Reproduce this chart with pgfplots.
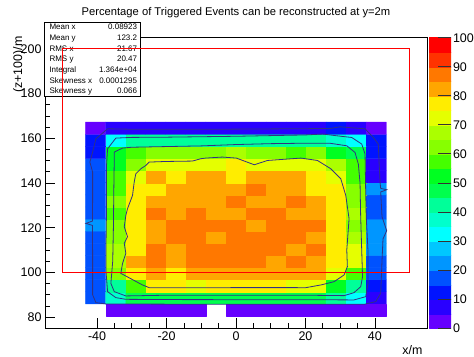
\documentclass[border=0pt]{standalone}
\usepackage{fontspec}
\setmainfont{Liberation Sans}
\usepackage{pgfplots}
\pgfplotsset{compat=1.18}

% 20-step rainbow palette (violet -> red); with meta range [2.5,97.5] each
% band centre 5k+2.5 lands exactly on entry k
\pgfplotsset{colormap={rootpal}{
  rgb=(0.40,0.00,1.00) rgb=(0.16,0.00,1.00) rgb=(0.00,0.08,1.00) rgb=(0.00,0.32,1.00)
  rgb=(0.00,0.59,1.00) rgb=(0.00,0.78,1.00) rgb=(0.00,1.00,1.00) rgb=(0.00,1.00,0.80)
  rgb=(0.00,1.00,0.60) rgb=(0.00,1.00,0.30) rgb=(0.00,1.00,0.13) rgb=(0.27,1.00,0.00)
  rgb=(0.53,1.00,0.00) rgb=(0.67,1.00,0.00) rgb=(0.90,1.00,0.00) rgb=(1.00,0.93,0.00)
  rgb=(1.00,0.65,0.00) rgb=(1.00,0.47,0.00) rgb=(1.00,0.20,0.00) rgb=(1.00,0.00,0.00)}}

\definecolor{contourline}{RGB}{50,50,130}

% bin contents, rows 2..16 from the bottom (x varies fastest)
\pgfplotstableread{
x y v
-40.40 88.62 17.5
-34.63 88.62 37.5
-28.86 88.62 47.5
-23.09 88.62 47.5
-17.32 88.62 47.5
-11.55 88.62 47.5
-5.78 88.62 47.5
0.00 88.62 47.5
5.77 88.62 47.5
11.54 88.62 47.5
17.31 88.62 47.5
23.08 88.62 47.5
28.85 88.62 42.5
34.62 88.62 32.5
40.39 88.62 7.5
-40.40 94.04 17.5
-34.63 94.04 42.5
-28.86 94.04 57.5
-23.09 94.04 77.5
-17.32 94.04 77.5
-11.55 94.04 72.5
-5.78 94.04 77.5
0.00 94.04 77.5
5.77 94.04 77.5
11.54 94.04 77.5
17.31 94.04 72.5
23.08 94.04 72.5
28.85 94.04 52.5
34.62 94.04 42.5
40.39 94.04 12.5
-40.40 99.46 17.5
-34.63 99.46 62.5
-28.86 99.46 77.5
-23.09 99.46 82.5
-17.32 99.46 77.5
-11.55 99.46 82.5
-5.78 99.46 82.5
0.00 99.46 82.5
5.77 99.46 82.5
11.54 99.46 82.5
17.31 99.46 82.5
23.08 99.46 82.5
28.85 99.46 72.5
34.62 99.46 57.5
40.39 99.46 17.5
-40.40 104.88 17.5
-34.63 104.88 67.5
-28.86 104.88 82.5
-23.09 104.88 87.5
-17.32 104.88 82.5
-11.55 104.88 87.5
-5.78 104.88 87.5
0.00 104.88 87.5
5.77 104.88 87.5
11.54 104.88 82.5
17.31 104.88 87.5
23.08 104.88 82.5
28.85 104.88 77.5
34.62 104.88 72.5
40.39 104.88 17.5
-40.40 110.30 17.5
-34.63 110.30 67.5
-28.86 110.30 77.5
-23.09 110.30 87.5
-17.32 110.30 82.5
-11.55 110.30 87.5
-5.78 110.30 87.5
0.00 110.30 87.5
5.77 110.30 87.5
11.54 110.30 87.5
17.31 110.30 82.5
23.08 110.30 87.5
28.85 110.30 77.5
34.62 110.30 72.5
40.39 110.30 22.5
-40.40 115.72 17.5
-34.63 115.72 62.5
-28.86 115.72 77.5
-23.09 115.72 82.5
-17.32 115.72 87.5
-11.55 115.72 87.5
-5.78 115.72 82.5
0.00 115.72 87.5
5.77 115.72 87.5
11.54 115.72 87.5
17.31 115.72 87.5
23.08 115.72 82.5
28.85 115.72 77.5
34.62 115.72 67.5
40.39 115.72 22.5
-40.40 121.14 22.5
-34.63 121.14 62.5
-28.86 121.14 77.5
-23.09 121.14 82.5
-17.32 121.14 87.5
-11.55 121.14 87.5
-5.78 121.14 87.5
0.00 121.14 87.5
5.77 121.14 82.5
11.54 121.14 87.5
17.31 121.14 87.5
23.08 121.14 87.5
28.85 121.14 77.5
34.62 121.14 62.5
40.39 121.14 22.5
-40.40 126.56 17.5
-34.63 126.56 57.5
-28.86 126.56 77.5
-23.09 126.56 87.5
-17.32 126.56 82.5
-11.55 126.56 87.5
-5.78 126.56 82.5
0.00 126.56 82.5
5.77 126.56 87.5
11.54 126.56 87.5
17.31 126.56 82.5
23.08 126.56 82.5
28.85 126.56 77.5
34.62 126.56 67.5
40.39 126.56 17.5
-40.40 131.98 17.5
-34.63 131.98 62.5
-28.86 131.98 77.5
-23.09 131.98 82.5
-17.32 131.98 82.5
-11.55 131.98 82.5
-5.78 131.98 82.5
0.00 131.98 87.5
5.77 131.98 82.5
11.54 131.98 82.5
17.31 131.98 87.5
23.08 131.98 82.5
28.85 131.98 77.5
34.62 131.98 62.5
40.39 131.98 17.5
-40.40 137.40 17.5
-34.63 137.40 57.5
-28.86 137.40 77.5
-23.09 137.40 77.5
-17.32 137.40 82.5
-11.55 137.40 82.5
-5.78 137.40 82.5
0.00 137.40 82.5
5.77 137.40 87.5
11.54 137.40 82.5
17.31 137.40 82.5
23.08 137.40 77.5
28.85 137.40 77.5
34.62 137.40 62.5
40.39 137.40 22.5
-40.40 142.82 17.5
-34.63 142.82 57.5
-28.86 142.82 72.5
-23.09 142.82 82.5
-17.32 142.82 77.5
-11.55 142.82 82.5
-5.78 142.82 82.5
0.00 142.82 77.5
5.77 142.82 82.5
11.54 142.82 82.5
17.31 142.82 82.5
23.08 142.82 77.5
28.85 142.82 72.5
34.62 142.82 57.5
40.39 142.82 7.5
-40.40 148.24 17.5
-34.63 148.24 52.5
-28.86 148.24 62.5
-23.09 148.24 72.5
-17.32 148.24 72.5
-11.55 148.24 72.5
-5.78 148.24 72.5
0.00 148.24 77.5
5.77 148.24 72.5
11.54 148.24 72.5
17.31 148.24 72.5
23.08 148.24 72.5
28.85 148.24 67.5
34.62 148.24 57.5
40.39 148.24 7.5
-40.40 153.66 12.5
-34.63 153.66 52.5
-28.86 153.66 57.5
-23.09 153.66 62.5
-17.32 153.66 62.5
-11.55 153.66 62.5
-5.78 153.66 62.5
0.00 153.66 67.5
5.77 153.66 62.5
11.54 153.66 62.5
17.31 153.66 57.5
23.08 153.66 62.5
28.85 153.66 52.5
34.62 153.66 47.5
40.39 153.66 12.5
-40.40 159.08 12.5
-34.63 159.08 32.5
-28.86 159.08 42.5
-23.09 159.08 42.5
-17.32 159.08 42.5
-11.55 159.08 42.5
-5.78 159.08 42.5
0.00 159.08 42.5
5.77 159.08 42.5
11.54 159.08 42.5
17.31 159.08 42.5
23.08 159.08 42.5
28.85 159.08 37.5
34.62 159.08 32.5
40.39 159.08 12.5
-40.40 164.50 2.5
-34.63 164.50 7.5
-28.86 164.50 7.5
-23.09 164.50 7.5
-17.32 164.50 7.5
-11.55 164.50 7.5
-5.78 164.50 7.5
0.00 164.50 7.5
5.77 164.50 7.5
11.54 164.50 7.5
17.31 164.50 7.5
23.08 164.50 7.5
28.85 164.50 12.5
34.62 164.50 7.5
40.39 164.50 2.5
}\bins

% lowest row (two bins are empty): one rectangle per filled bin
\pgfplotstableread{
x y v
-37.515 80.49 2.5
-31.745 80.49 2.5
-31.745 85.91 2.5
-37.515 85.91 2.5
-31.745 80.49 2.5
-25.975 80.49 2.5
-25.975 85.91 2.5
-31.745 85.91 2.5
-25.975 80.49 2.5
-20.205 80.49 2.5
-20.205 85.91 2.5
-25.975 85.91 2.5
-20.205 80.49 2.5
-14.435 80.49 2.5
-14.435 85.91 2.5
-20.205 85.91 2.5
-14.435 80.49 2.5
-8.665 80.49 2.5
-8.665 85.91 2.5
-14.435 85.91 2.5
-2.895 80.49 2.5
2.875 80.49 2.5
2.875 85.91 2.5
-2.895 85.91 2.5
2.875 80.49 2.5
8.645 80.49 2.5
8.645 85.91 2.5
2.875 85.91 2.5
8.645 80.49 2.5
14.415 80.49 2.5
14.415 85.91 2.5
8.645 85.91 2.5
14.415 80.49 2.5
20.185 80.49 2.5
20.185 85.91 2.5
14.415 85.91 2.5
20.185 80.49 2.5
25.955 80.49 2.5
25.955 85.91 2.5
20.185 85.91 2.5
25.955 80.49 2.5
31.725 80.49 2.5
31.725 85.91 2.5
25.955 85.91 2.5
31.725 80.49 2.5
37.495 80.49 2.5
37.495 85.91 2.5
31.725 85.91 2.5
37.495 80.49 2.5
43.265 80.49 2.5
43.265 85.91 2.5
37.495 85.91 2.5
}\bottomrow

% colour scale: one rectangle per 5 % band
\pgfplotstableread{
x y v
0 0 2.5
1 0 2.5
1 5 2.5
0 5 2.5
0 5 7.5
1 5 7.5
1 10 7.5
0 10 7.5
0 10 12.5
1 10 12.5
1 15 12.5
0 15 12.5
0 15 17.5
1 15 17.5
1 20 17.5
0 20 17.5
0 20 22.5
1 20 22.5
1 25 22.5
0 25 22.5
0 25 27.5
1 25 27.5
1 30 27.5
0 30 27.5
0 30 32.5
1 30 32.5
1 35 32.5
0 35 32.5
0 35 37.5
1 35 37.5
1 40 37.5
0 40 37.5
0 40 42.5
1 40 42.5
1 45 42.5
0 45 42.5
0 45 47.5
1 45 47.5
1 50 47.5
0 50 47.5
0 50 52.5
1 50 52.5
1 55 52.5
0 55 52.5
0 55 57.5
1 55 57.5
1 60 57.5
0 60 57.5
0 60 62.5
1 60 62.5
1 65 62.5
0 65 62.5
0 65 67.5
1 65 67.5
1 70 67.5
0 70 67.5
0 70 72.5
1 70 72.5
1 75 72.5
0 75 72.5
0 75 77.5
1 75 77.5
1 80 77.5
0 80 77.5
0 80 82.5
1 80 82.5
1 85 82.5
0 85 82.5
0 85 87.5
1 85 87.5
1 90 87.5
0 90 87.5
0 90 92.5
1 90 92.5
1 95 92.5
0 95 92.5
0 95 97.5
1 95 97.5
1 100 97.5
0 100 97.5
}\scalebands

\begin{document}
\begin{tikzpicture}
\useasboundingbox (0bp,0bp) rectangle (474bp,357bp);
\begin{axis}[
  at={(45bp,28.7bp)}, anchor=south west,
  scale only axis, width=382bp, height=290.6bp,
  xmin=-55, xmax=55, ymin=75, ymax=205,
  clip=false,
  axis line style={line width=0.8bp},
  xtick={-40,-20,...,40}, ytick={80,100,...,200},
  minor tick num=3,
  xtick pos=left, ytick pos=left,
  tick align=inside,
  major tick length=10bp, minor tick length=5bp,
  tick style={black, line width=0.8bp},
  tick label style={font=\fontsize{12.5bp}{14bp}\selectfont},
  /pgf/number format/assume math mode=true,
  title={Percentage of Triggered Events can be reconstructed at y=2m},
  every axis title shift=0pt,
  title style={at={(0.5,1.085)}, anchor=center, font=\fontsize{11.2bp}{13bp}\selectfont},
  xlabel={x/m},
  xlabel style={at={(0.997,-0.0747)}, anchor=east, font=\fontsize{12.4bp}{14bp}\selectfont},
  ylabel={(z+100)/m},
  ylabel style={at={(-0.068,1.016)}, anchor=east, font=\fontsize{12.4bp}{14bp}\selectfont},
  colormap name=rootpal,
  point meta min=2.5, point meta max=97.5,
]

\addplot[matrix plot*, mesh/cols=15, point meta=explicit] table[meta=v] {\bins};
\addplot[patch, patch type=rectangle, shader=flat, point meta=explicit] table[meta=v] {\bottomrow};

% contour lines (levels 18, 36, 54, 72 from outside in)
\addplot[contourline, line width=0.8bp] coordinates {
(-36.98,164.25) (-30,164.05) (-20,164.02) (-10,164.02) (0,164.1) (10,164.2) (20,164.3)
(27.1,164.4) (29.97,165.14) (33.33,164.7) (37.16,164.25) (39.54,160.36) (40.98,157.41)
(41.18,150) (41.5,140) (41.67,137.6) (43.39,136.98) (41.67,136.0) (42.04,125)
(43.39,118.66) (42.33,115) (42.04,105) (41.67,90.64) (40.23,86.93) (36.87,85.72)
(20,85.8) (0,85.8) (-20,85.8) (-37.47,85.90) (-40.34,86.48) (-41.29,90) (-41.29,105)
(-41.3,121.0) (-43.22,121.92) (-41.3,123.0) (-41.29,135) (-41.29,144.89) (-42.07,149.36)
(-41.29,153.83) (-40.34,159.78) (-36.98,164.25)};
\addplot[contourline, line width=0.8bp] coordinates {
(-34.60,160.09) (-30,160.4) (-20,160.5) (-10,160.7) (0,160.9) (10,161.2) (20,161.5)
(25,161.9) (29.02,161.12) (33.33,160.36) (36.21,157.41) (37.16,152.94) (37.3,140)
(37.5,125) (38.0,110) (38.02,95.11) (37.36,89.16) (33.99,87.69) (20,87.8) (0,87.8)
(-20,87.85) (-31.72,87.96) (-34.60,88.72) (-36.98,91.40) (-37.41,100) (-37.41,115)
(-37.27,130) (-37.27,148.16) (-36.98,155.31) (-34.60,160.09)};
\addplot[contourline, line width=0.8bp] coordinates {
(-35.06,153.83) (-32.67,155.62) (-30,156.0) (-20,156.3) (-10,156.6) (0,157.2) (10,157.6)
(20,157.8) (27.10,157.77) (31.90,156.65) (34.28,153.65) (35.23,148.47) (35.72,140)
(35.9,125) (36.2,110) (36.44,98.10) (35.92,93.63) (33.99,90.95) (31.12,89.61)
(20,89.8) (0,89.8) (-20,89.8) (-31.72,89.48) (-35.06,91.40) (-36.03,95.11) (-35.5,105)
(-35.3,120) (-35.2,135) (-35.06,150) (-35.06,153.83)};
\addplot[contourline, line width=0.8bp] coordinates {
(-31.72,125.50) (-31.24,128.49) (-29.80,134.44) (-29.31,140.43) (-28.85,144.13)
(-27.41,146.37) (-25.98,147.84) (-25.00,149.36) (-20.23,149.63) (-12.56,149.81)
(-10.17,150.84) (-8.74,151.15) (-3.94,151.60) (0.09,151.15) (5.26,148.16) (9.08,150.08)
(18.68,151.15) (23.45,150.08) (27.30,146.37) (30.17,141.90) (31.61,134.44) (32.56,124.02)
(31.90,110) (32.07,102.57) (31.12,98.86) (28.25,95.87) (24.43,94.39) (20.11,93.18)
(10,93.2) (0,93.2) (-10,93.1) (-25.00,93.18) (-26.93,94.39) (-33.16,99.58) (-32.67,104.04)
(-31.72,108.51) (-32.18,112.98) (-31.24,115.98) (-32.18,120.45) (-31.72,125.50)};

% statistics box
\node[draw=black, line width=0.8bp, fill=white, inner sep=0pt, anchor=north west,
      minimum width=96bp, minimum height=74bp]
  at (axis description cs:-0.0026,1.0540) {};
\begin{scope}[every node/.style={inner sep=0pt, font=\fontsize{8bp}{9.6bp}\selectfont}]
\node[anchor=base west] at (axis description cs:0.0113,1.0279) {Mean x};
\node[anchor=base east] at (axis description cs:0.2416,1.0279) {0.08923};
\node[anchor=base west] at (axis description cs:0.0113,0.9911) {Mean y};
\node[anchor=base east] at (axis description cs:0.2416,0.9911) {123.2};
\node[anchor=base west] at (axis description cs:0.0113,0.9542) {RMS x};
\node[anchor=base east] at (axis description cs:0.2416,0.9542) {21.67};
\node[anchor=base west] at (axis description cs:0.0113,0.9171) {RMS y};
\node[anchor=base east] at (axis description cs:0.2416,0.9171) {20.47};
\node[anchor=base west] at (axis description cs:0.0113,0.8803) {Integral};
\node[anchor=base east] at (axis description cs:0.2416,0.8803) {1.364e+04};
\node[anchor=base west] at (axis description cs:0.0113,0.8434) {Skewness x};
\node[anchor=base east] at (axis description cs:0.2416,0.8434) {0.0001295};
\node[anchor=base west] at (axis description cs:0.0113,0.8066) {Skewness y};
\node[anchor=base east] at (axis description cs:0.2416,0.8066) {0.066};
\end{scope}

% fiducial region
\addplot[red, line width=0.9bp] coordinates {(-50,100) (50,100) (50,200) (-50,200) (-50,100)};
\end{axis}

% colour scale (x runs right to left so the tick combs start at the right edge)
\begin{axis}[
  at={(429bp,28.7bp)}, anchor=south west,
  scale only axis, width=22bp, height=290.6bp,
  xmin=0, xmax=1, ymin=0, ymax=100,
  x dir=reverse,
  xtick=\empty,
  ytick={0,10,...,100},
  ytick pos=right, yticklabel pos=right,
  major tick length=0pt,
  axis line style={draw opacity=0},
  tick label style={font=\fontsize{12.5bp}{14bp}\selectfont},
  yticklabel style={xshift=-1.5bp},
  /pgf/number format/assume math mode=true,
  colormap name=rootpal,
  point meta min=2.5, point meta max=97.5,
]
\addplot[patch, patch type=rectangle, shader=flat, point meta=explicit] table[meta=v] {\scalebands};
\addplot[xcomb, black!80, line width=0.9bp, mark=none] coordinates {
(0.59,0) (0.59,10) (0.59,20) (0.59,30) (0.59,40) (0.59,50)
(0.59,60) (0.59,70) (0.59,80) (0.59,90) (0.59,100)};
\end{axis}
\end{tikzpicture}
\end{document}
